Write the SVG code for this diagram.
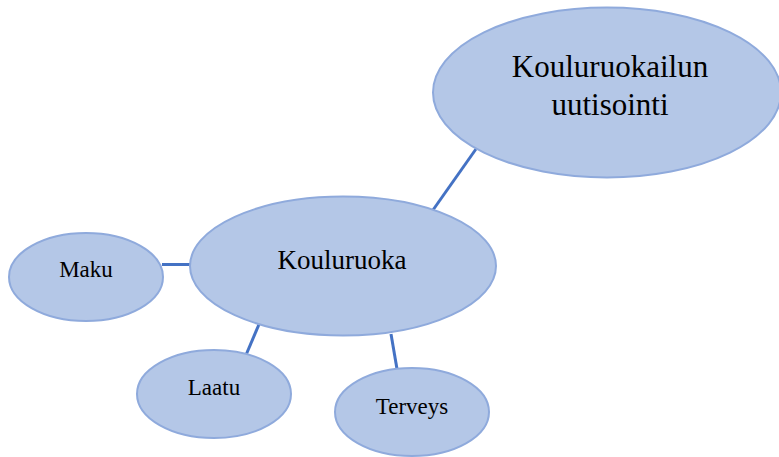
<svg xmlns="http://www.w3.org/2000/svg" width="779" height="457" viewBox="0 0 779 457">
<style>
.n{fill:#B4C7E7;stroke:#8FAADC;stroke-width:2}
.t{font-family:"Liberation Serif","Times New Roman",serif;fill:#000;text-anchor:middle}
.c line{stroke:#4472C4;stroke-width:3}
</style>
<rect width="779" height="457" fill="#fff"/>
<g class="c" id="connectors">
<line x1="476" y1="149" x2="433" y2="210"/>
<line x1="162" y1="264.5" x2="193" y2="264.5"/>
<line x1="260" y1="322" x2="246" y2="355"/>
<line x1="391" y1="334" x2="397" y2="369"/>
</g>
<g id="uutisointi"><ellipse class="n" cx="607" cy="92.5" rx="174" ry="85"/><text class="t" x="610" y="77" font-size="31">Kouluruokailun</text><text class="t" x="610" y="115" font-size="31">uutisointi</text></g>
<g id="kouluruoka"><ellipse class="n" cx="343" cy="266" rx="153" ry="69.5"/><text class="t" x="342" y="269" font-size="27">Kouluruoka</text></g>
<g id="maku"><ellipse class="n" cx="86" cy="277" rx="77" ry="44"/><text class="t" x="86" y="277" font-size="23">Maku</text></g>
<g id="laatu"><ellipse class="n" cx="214" cy="394" rx="77" ry="44"/><text class="t" x="214" y="395" font-size="23">Laatu</text></g>
<g id="terveys"><ellipse class="n" cx="412" cy="412" rx="77" ry="44"/><text class="t" x="412" y="414" font-size="23">Terveys</text></g>
</svg>
